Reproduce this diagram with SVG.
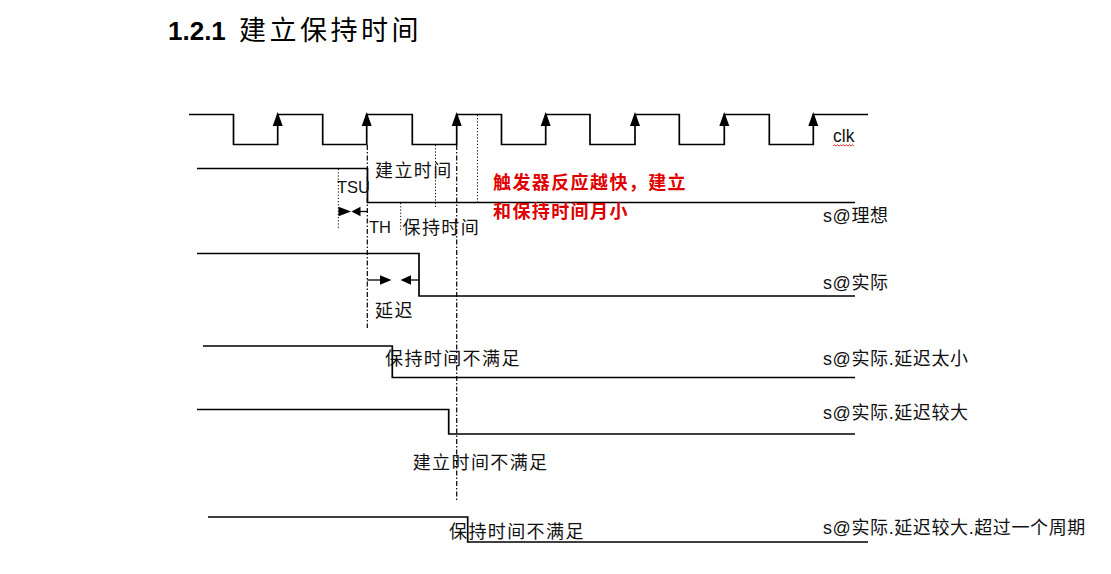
<svg xmlns="http://www.w3.org/2000/svg" width="1111" height="574" viewBox="0 0 1111 574">
<defs>
<style>
.wave{fill:none;stroke:#000;stroke-width:1.7}
.dd{fill:none;stroke:#000;stroke-width:1.2;stroke-dasharray:5 2 1.5 2}
.dot{fill:none;stroke:#000;stroke-width:1;stroke-dasharray:1.2 2}
.ah{fill:#000}
.cn{font-family:"Noto Sans CJK SC","Liberation Sans",sans-serif;font-size:18px;letter-spacing:1.4px;fill:#111}
.lat{font-family:"Liberation Sans","Noto Sans CJK SC",sans-serif;font-size:16.5px;fill:#111}
.lbl{font-family:"Liberation Sans","Noto Sans CJK SC",sans-serif;font-size:18px;letter-spacing:0.6px;fill:#111}
.red{font-family:"Noto Sans CJK SC",sans-serif;font-size:18px;font-weight:bold;letter-spacing:1.4px;fill:#e00000}
</style>
</defs>
<rect width="1111" height="574" fill="#fff"/>
<g id="title">
<text x="168" y="40" font-family="Liberation Sans,sans-serif" font-size="26" font-weight="bold" fill="#000">1.2.1</text>
<text x="239" y="40" font-family="Noto Sans CJK SC,sans-serif" font-size="27" letter-spacing="3.5" fill="#000">建立保持时间</text>
</g>
<g id="clk">
<path class="wave" d="M189,114.5 H233.5 V144.5 H277.7 V114.5 H322.7 V144.5 H366.7 V114.5 H412.3 V144.5 H456.7 V114.5 H501.5 V144.5 H545.7 V114.5 H590 V144.5 H635 V114.5 H679.3 V144.5 H724.3 V114.5 H769.3 V144.5 H813.3 V114.5 H868"/>
<g class="ah">
<polygon points="277.7,112 272.7,126 282.7,126"/>
<polygon points="366.7,112 361.7,126 371.7,126"/>
<polygon points="456.7,112 451.7,126 461.7,126"/>
<polygon points="545.7,112 540.7,126 550.7,126"/>
<polygon points="635,112 630,126 640,126"/>
<polygon points="724.3,112 719.3,126 729.3,126"/>
<polygon points="813.3,112 808.3,126 818.3,126"/>
</g>
<text x="833" y="141.5" font-family="Liberation Sans,sans-serif" font-size="17.5" fill="#111">clk</text>
<path d="M833,146 l1.5,-1.2 l1.5,1.2 l1.5,-1.2 l1.5,1.2 l1.5,-1.2 l1.5,1.2 l1.5,-1.2 l1.5,1.2 l1.5,-1.2 l1.5,1.2 l1.5,-1.2 l1.5,1.2 l1.5,-1.2 l1.5,1.2" fill="none" stroke="#e00000" stroke-width="0.8"/>
</g>
<g id="s-ideal">
<path class="wave" d="M197,168.5 H367.5 V202.5 H855"/>
<text class="lbl" x="823" y="222">s@理想</text>
</g>
<g id="s-actual">
<path class="wave" d="M197,253.5 H419 V296 H855"/>
<text class="lbl" x="823" y="289">s@实际</text>
</g>
<g id="s-small">
<path class="wave" d="M203,346 H392.3 V377.5 H855"/>
<text class="lbl" x="823" y="365">s@实际.延迟太小</text>
</g>
<g id="s-large">
<path class="wave" d="M197,409.5 H448.7 V434 H855"/>
<text class="lbl" x="823" y="419">s@实际.延迟较大</text>
</g>
<g id="s-cycle">
<path class="wave" d="M208,517 H467.7 V542 H868"/>
<text class="lbl" x="823" y="533.5">s@实际.延迟较大.超过一个周期</text>
</g>
<g id="connectors">
<line class="dd" x1="367.3" y1="145" x2="367.3" y2="328"/>
<line class="dd" x1="456.7" y1="145" x2="456.7" y2="502"/>
<line class="dot" x1="338.3" y1="169" x2="338.3" y2="230"/>
<line class="dot" x1="400.7" y1="203" x2="400.7" y2="230"/>
<line class="dot" x1="435.5" y1="145" x2="435.5" y2="207"/>
<line class="dot" x1="477.5" y1="115" x2="477.5" y2="202"/>
<polygon class="ah" points="338.5,206.7 351,211.5 338.5,216.3"/>
<polygon class="ah" points="351.5,211.5 360.5,206.7 360.5,216.3"/>
<line x1="360" y1="211.5" x2="367.3" y2="211.5" stroke="#000" stroke-width="1.3"/>
<line x1="367.3" y1="280" x2="381" y2="280" stroke="#000" stroke-width="1.3"/>
<polygon class="ah" points="380,275.3 391.5,280 380,284.7"/>
<polygon class="ah" points="400.5,280 411,275.3 411,284.7"/>
<line x1="410" y1="280" x2="419" y2="280" stroke="#000" stroke-width="1.3"/>
</g>
<g id="labels">
<text class="cn" x="375" y="177">建立时间</text>
<text class="lat" x="337" y="193">TSU</text>
<text class="lat" x="369" y="232.5">TH</text>
<text class="cn" x="402.5" y="233.5">保持时间</text>
<text class="cn" x="375" y="316.5">延迟</text>
<text class="cn" x="385" y="365">保持时间不满足</text>
<text class="cn" x="412.7" y="469">建立时间不满足</text>
<text class="cn" x="449" y="538">保持时间不满足</text>
<text class="red" x="493" y="189">触发器反应越快，建立</text>
<text class="red" x="493" y="218">和保持时间月小</text>
</g>
</svg>
